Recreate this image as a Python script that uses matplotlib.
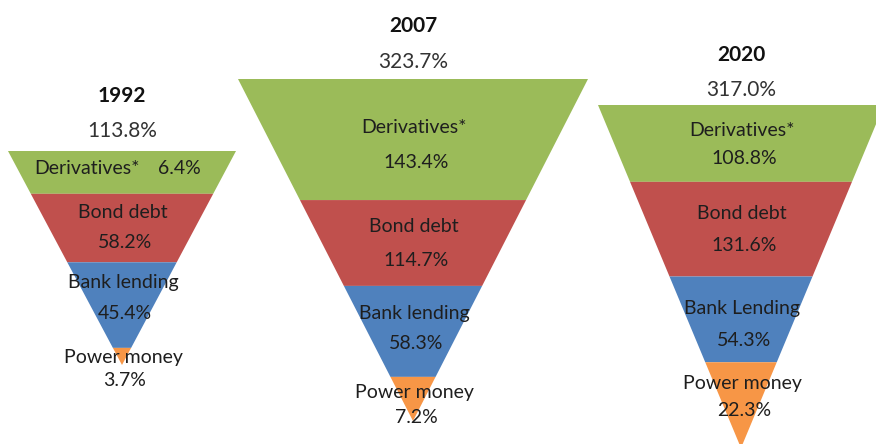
import matplotlib.pyplot as plt
from matplotlib.patches import Polygon

years = ['1992', '2007', '2020']
totals = [113.8, 323.7, 317.0]
derivatives = [6.4, 143.4, 108.8]
bond_debt = [58.2, 114.7, 131.6]
bank_lending = [45.4, 58.3, 54.3]
power_money = [3.7, 7.2, 22.3]
layer_names = [
    ['Derivatives*', 'Bond debt', 'Bank lending', 'Power money'],
    ['Derivatives*', 'Bond debt', 'Bank lending', 'Power money'],
    ['Derivatives*', 'Bond debt', 'Bank Lending', 'Power money'],
]
colors = ['#9BBB59', '#C0504D', '#4F81BD', '#F79646']

# funnel geometry in pixel space (hand drawn in the original)
centers = [122, 413, 741]
tops = [151, 79, 105]
apexes = [365, 421, 448]
half_widths = [114, 175, 143]
band_edges = [
    [0.0, 0.20, 0.52, 0.92, 1.0],
    [0.0, 0.354, 0.605, 0.871, 1.0],
    [0.0, 0.224, 0.50, 0.75, 1.0],
]
# label y positions (name, value) per layer
label_ys = [
    [(168, 168), (212, 242), (282, 313), (357, 380)],
    [(127, 162), (226, 260), (313, 343), (392, 417)],
    [(130, 158), (213, 245), (308, 340), (383, 410)],
]
title_ys = [(96, 131), (26, 62), (55, 90)]

plt.rcParams['font.family'] = ['Lato', 'DejaVu Sans']
fig = plt.figure(figsize=(8.76, 4.44), dpi=100)
ax = fig.add_axes([0, 0, 1, 1])
ax.set_xlim(0, 876)
ax.set_ylim(444, 0)
ax.axis('off')

txt = '#1e1e1e'
fs = 14

for i, year in enumerate(years):
    cx, top, apex, hw = centers[i], tops[i], apexes[i], half_widths[i]
    values = [derivatives[i], bond_debt[i], bank_lending[i], power_money[i]]
    height = apex - top

    def half(y):
        return hw * (apex - y) / height

    for k in range(4):
        y0 = top + band_edges[i][k] * height
        y1 = top + band_edges[i][k + 1] * height
        pts = [(cx - half(y0), y0), (cx + half(y0), y0),
               (cx + half(y1), y1), (cx - half(y1), y1)]
        ax.add_patch(Polygon(pts, closed=True, facecolor=colors[k],
                             edgecolor='none'))

        name_y, val_y = label_ys[i][k]
        if name_y == val_y:
            ax.text(cx - 35, name_y, layer_names[i][k], ha='center',
                    va='center', fontsize=fs, color=txt)
            ax.text(cx + 57, val_y, f'{values[k]:.1f}%', ha='center',
                    va='center', fontsize=fs, color=txt)
        else:
            ax.text(cx + 1, name_y, layer_names[i][k], ha='center',
                    va='center', fontsize=fs, color=txt)
            ax.text(cx + 3, val_y, f'{values[k]:.1f}%', ha='center',
                    va='center', fontsize=fs, color=txt)

    ax.text(cx, title_ys[i][0], year, ha='center', va='center',
            fontsize=15, fontweight='bold', color='#111111')
    ax.text(cx, title_ys[i][1], f'{totals[i]:.1f}%', ha='center',
            va='center', fontsize=15, color='#333333')

fig.savefig('out.png', dpi=100)
